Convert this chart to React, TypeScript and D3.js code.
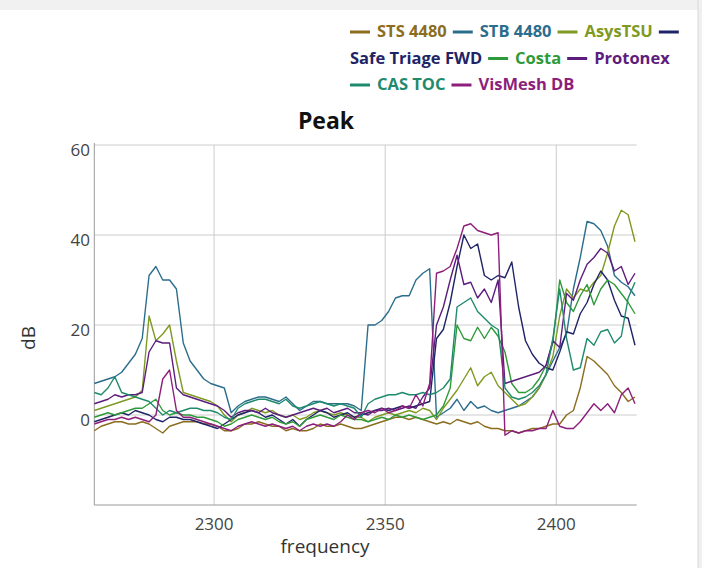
import { useEffect, useRef } from 'react';
import * as d3 from 'd3';

const WIDTH = 702;
const HEIGHT = 568;
const PLOT = { left: 94.3, right: 636.7, top: 145, bottom: 505 };
const FONT = '"Open Sans", "DejaVu Sans", sans-serif';

const FREQ = [
  2265, 2267, 2269, 2271, 2273, 2275, 2277, 2279, 2281, 2283,
  2285, 2287, 2289, 2291, 2293, 2295, 2297, 2299, 2301, 2303,
  2305, 2307, 2309, 2311, 2313, 2315, 2317, 2319, 2321, 2323,
  2325, 2327, 2329, 2331, 2333, 2335, 2337, 2339, 2341, 2343,
  2345, 2347, 2349, 2351, 2353, 2355, 2357, 2359, 2361, 2363,
  2365, 2367, 2369, 2371, 2373, 2375, 2377, 2379, 2381, 2383,
  2385, 2387, 2389, 2391, 2393, 2395, 2397, 2399, 2401, 2403,
  2405, 2407, 2409, 2411, 2413, 2415, 2417, 2419, 2421, 2423,
];

const STS_4480 = [
  -3.5, -2.5, -2, -1.5, -1.5, -2, -2, -1.5, -2, -3,
  -4, -2.5, -2, -1.5, -1.5, -1.5, -2, -2, -2.5, -3.5,
  -3.5, -3, -2, -2, -1.5, -2, -2.5, -2.5, -3.5, -3,
  -3.5, -3.5, -3, -2, -2.5, -2.5, -2, -2.5, -3, -3,
  -2.5, -2, -1.5, -1, -0.5, -0.5, -1, -0.5, -1, -1.5,
  -2, -1.5, -2, -1, -1.5, -2, -1.5, -2.5, -3, -3,
  -3.5, -3.5, -4, -3.5, -3, -3, -2.5, -2, -2, 0,
  1, 6, 13, 12, 10.5, 9, 6.5, 5, 3, 4,
];

const STB_4480 = [
  7, 7.5, 8, 8.5, 9.5, 11.5, 13.5, 17, 31, 33,
  30, 30, 28, 16, 12, 10, 8, 7, 6.5, 6,
  0.5, 2, 3, 3.5, 4, 4, 3.5, 3, 4, 2.5,
  1, 2, 3, 3, 2.5, 2.5, 2.5, 2.5, 2, 1,
  20, 20, 21, 23, 26, 26.5, 26.5, 30, 31.5, 32.5,
  -0.5, 0.5, 1.5, 3.5, 1, 3, 1.5, 2, 1, 0.5,
  1, 1.5, 2, 3, 4, 6, 9, 12, 15, 18,
  28, 35, 43, 42.5, 41, 37.5, 31, 29.5, 28.5, 26.5,
];

const ASYS_TSU = [
  1, 1.5, 2, 2.5, 3, 3.5, 4, 5.5, 22, 16.5,
  18, 20, 12, 5, 4.5, 4, 3.5, 3, 2, 0,
  -1.5, 0, 0.5, 1.5, 1, 0.5, 1, 0, -0.5, 0,
  -1, -0.5, 0.5, 1, 0.5, 0, 0.5, 0, -0.5, -0.5,
  -1.5, -0.5, 0, 0.5, 0, 0.5, 1, 0.5, 1.5, 1,
  -1, 1.5, 3.5, 5.5, 8, 10.5, 6.5, 8.5, 9.5, 6.5,
  5, 3.5, 2, 2.5, 4, 6, 9, 13, 22, 28,
  26, 28, 27.5, 29.5, 31, 36, 42, 45.5, 44.5, 38.5,
];

const SAFE_TRIAGE = [
  -1.5, -1, -0.5, 0, 0.5, 0, 1, 0.5, 0, -1,
  -1.5, -0.5, -0.5, -1, -1, -1.5, -2, -2.5, -3, -2,
  -1, 0, 0.5, 1, 0.5, -0.5, 0, -1, -2, -1,
  -2.5, -1, 0, 1, 0.5, -0.5, 0, 0.5, -0.5, 0,
  0.5, 1, 1.5, 1, 1.5, 2, 1.5, 2, 2.5, 3,
  17, 19, 25, 33, 40, 37, 38, 31, 30, 31,
  30.5, 34, 24, 16.5, 13.5, 11.5, 10.5, 10, 14, 18.5,
  18, 22.5, 25, 29, 32, 30, 25.5, 22, 21.5, 15.5,
];

const COSTA = [
  -0.5, 0, 0.5, 0, 0.5, 1, 1.5, 1.5, 2.5, 3.5,
  1, 0, 0.5, 0, 0, -0.5, -0.5, -1, -1.5, -2.5,
  -2, -1, -0.5, 0, -0.5, -1, -0.5, -1.5, -2, -1.5,
  -2.5, -1, -0.5, 0, -0.5, -1, 0, -0.5, -1, -1,
  -1.5, -1, -0.5, -1, 0, -0.5, 0, -0.5, -1, -0.5,
  0, 2, 6, 20, 17, 16.5, 19.5, 17, 19.5, 17.5,
  14, 7, 5, 5, 6, 8, 11, 16, 30, 25,
  23, 26.5, 29, 24.5, 28, 30, 29, 27, 25, 22.5,
];

const PROTONEX = [
  2.5, 3, 3.5, 4.5, 4, 4.5, 4.5, 5, 14, 16.5,
  16, 16, 6, 4.5, 4, 3.5, 3, 2.5, 2, 1,
  -0.5, 0.5, 1, 1, 0.5, 1.5, 0.5, 0, -0.5, 0,
  0.5, 1, 1.5, 1, 1.5, 0.5, 1, 1.5, 0.5, 0.5,
  0, 1, 1, 1.5, 1, 1.5, 2, 1.5, 4, 6,
  20, 24, 30, 35.5, 29, 29.5, 26, 28, 25, 30,
  7, 7.5, 8, 8.5, 9, 9.5, 11, 16.5, 15, 27,
  25.5, 30, 33.5, 35, 37, 36, 32, 33, 29, 31.5,
];

const CAS_TOC = [
  5, 4.5, 6, 8.5, 5, 4.5, 4, 3.5, 3, 1.5,
  0, 1, 0.5, 1, 1.5, 1.5, 1, 1, 0.5, -0.5,
  -1, 1.5, 2.5, 3, 3.5, 3.5, 3, 2.5, 3.5, 2,
  1.5, 2, 2.5, 3, 2.5, 2, 2.5, 2, 1.5, -0.5,
  2.5, 3.5, 4, 4.5, 4.5, 5, 4.5, 4.5, 5, 4.5,
  5, 6, 8, 24, 25, 26, 23, 21.5, 20, 19,
  6, 4, 3.5, 4, 5, 6.5, 9, 17, 28, 17,
  10, 10.5, 17, 15.5, 18.5, 19, 16, 17.5, 26, 29.5,
];

const VISMESH_DB = [
  -2, -1.5, -1, -1, -0.5, -1, -0.5, -1, -1.5, 0,
  8, 10, 1, -0.5, -0.5, -1, -1.5, -2, -2.5, -3,
  -3.5, -2.5, -2, -1.5, -2, -2.5, -2, -2.5, -3, -2.5,
  -3.5, -2.5, -2, -2.5, -2, -2.5, -1.5, 0, -1, 0.5,
  1, 0.5, 1.5, 0.5, 1, 2, 1.5, 4.5, 2, 7,
  31.5, 32, 33, 37, 42, 42.5, 41, 40.5, 40, 40.5,
  -4.5, -3.5, -4, -3.5, -3.5, -3, -3, 1, -2.5, -3,
  -3, -1.5, 0.5, 2.5, 1, 2.5, 0.5, 4.5, 6, 2.5,
];

const SERIES_NAMES = [
  'STS 4480', 'STB 4480', 'AsysTSU', 'Safe Triage FWD',
  'Costa', 'Protonex', 'CAS TOC', 'VisMesh DB',
];
const SERIES_VALUES = [
  STS_4480, STB_4480, ASYS_TSU, SAFE_TRIAGE,
  COSTA, PROTONEX, CAS_TOC, VISMESH_DB,
];
const SERIES_COLORS = [
  '#8c6d1f', '#2b6d8c', '#7f9a23', '#1e2466',
  '#2f9a3a', '#5d1d7d', '#1f8a6c', '#8d1f7c',
];

const X_TICKS = [2300, 2350, 2400];
const Y_TICKS = [0, 20, 40, 60];

export default function App() {
  const svgRef = useRef<SVGSVGElement>(null);

  useEffect(() => {
    if (!svgRef.current) return;
    const svg = d3.select(svgRef.current);
    svg.selectAll('*').remove();

    const xScale = d3.scaleLinear().domain([2265, 2423.5]).range([PLOT.left, PLOT.right]);
    const yScale = d3.scaleLinear().domain([-20, 60]).range([PLOT.bottom, PLOT.top]);

    // page chrome: faint top band and right border
    svg.append('rect').attr('x', 0).attr('y', 0).attr('width', WIDTH).attr('height', 10).attr('fill', '#f1f1f1');
    svg.append('rect').attr('x', 698).attr('y', 0).attr('width', 4).attr('height', HEIGHT).attr('fill', '#f0f0f0');
    svg.append('line').attr('x1', 698).attr('x2', 698).attr('y1', 0).attr('y2', HEIGHT)
      .attr('stroke', '#d8d8d8');

    // Grid
    X_TICKS.forEach((t) => {
      svg.append('line')
        .attr('x1', xScale(t)).attr('x2', xScale(t))
        .attr('y1', PLOT.top).attr('y2', PLOT.bottom)
        .attr('stroke', '#cccccc').attr('stroke-width', 1);
    });
    Y_TICKS.forEach((t) => {
      svg.append('line')
        .attr('x1', PLOT.left).attr('x2', PLOT.right)
        .attr('y1', yScale(t)).attr('y2', yScale(t))
        .attr('stroke', '#cccccc').attr('stroke-width', 1);
    });

    // Axis lines
    svg.append('line')
      .attr('x1', PLOT.left).attr('x2', PLOT.left)
      .attr('y1', PLOT.top - 2).attr('y2', PLOT.bottom)
      .attr('stroke', '#9a9a9a');
    svg.append('line')
      .attr('x1', PLOT.left).attr('x2', PLOT.right)
      .attr('y1', PLOT.bottom).attr('y2', PLOT.bottom)
      .attr('stroke', '#9a9a9a');

    // Tick labels
    Y_TICKS.forEach((t) => {
      svg.append('text')
        .attr('x', 90).attr('y', yScale(t) + 11)
        .attr('text-anchor', 'end')
        .attr('font-size', 17).attr('fill', '#444')
        .attr('font-family', FONT)
        .text(String(t));
    });
    X_TICKS.forEach((t) => {
      svg.append('text')
        .attr('x', xScale(t)).attr('y', 530)
        .attr('text-anchor', 'middle')
        .attr('font-size', 17).attr('fill', '#444')
        .attr('font-family', FONT)
        .text(String(t));
    });

    // Axis titles
    svg.append('text')
      .attr('x', 325).attr('y', 553)
      .attr('text-anchor', 'middle')
      .attr('font-size', 19).attr('fill', '#333')
      .attr('font-family', FONT)
      .text('frequency');
    svg.append('text')
      .attr('transform', 'translate(35,338) rotate(-90)')
      .attr('text-anchor', 'middle')
      .attr('font-size', 19).attr('fill', '#333')
      .attr('font-family', FONT)
      .text('dB');

    // Title
    svg.append('text')
      .attr('x', 326).attr('y', 129)
      .attr('text-anchor', 'middle')
      .attr('font-size', 23).attr('font-weight', 'bold').attr('fill', '#111')
      .attr('font-family', FONT)
      .text('Peak');

    // Series
    const line = d3.line<number>()
      .x((_, i) => xScale(FREQ[i]))
      .y((d) => yScale(d));
    SERIES_VALUES.forEach((values, s) => {
      svg.append('path')
        .attr('d', line(values))
        .attr('fill', 'none')
        .attr('stroke', SERIES_COLORS[s])
        .attr('stroke-width', 1.4)
        .attr('stroke-linejoin', 'round');
    });

    // Legend: flowed dash + name, wrapping like inline text
    const legend = svg.append('g');
    const startX = 350;
    const maxX = 692;
    const dashW = 20;
    let x = startX;
    let baseline = 37;
    const lineGap = 26.5;
    SERIES_NAMES.forEach((name, s) => {
      if (x + dashW > maxX) {
        x = startX;
        baseline += lineGap;
      }
      legend.append('line')
        .attr('x1', x).attr('x2', x + dashW)
        .attr('y1', baseline - 5).attr('y2', baseline - 5)
        .attr('stroke', SERIES_COLORS[s]).attr('stroke-width', 3);
      x += dashW + 7;
      const label = legend.append('text')
        .attr('font-size', 16.5).attr('font-weight', 'bold')
        .attr('font-family', FONT)
        .attr('fill', SERIES_COLORS[s])
        .text(name);
      const w = (label.node() as SVGTextElement).getComputedTextLength();
      if (x + w > maxX) {
        x = startX;
        baseline += lineGap;
      }
      label.attr('x', x).attr('y', baseline);
      x += w + 6;
    });
  }, []);

  return (
    <div style={{ position: 'fixed', left: 0, top: 0 }}>
      <svg ref={svgRef} width={WIDTH} height={HEIGHT} style={{ display: 'block', background: '#fff' }} />
    </div>
  );
}
